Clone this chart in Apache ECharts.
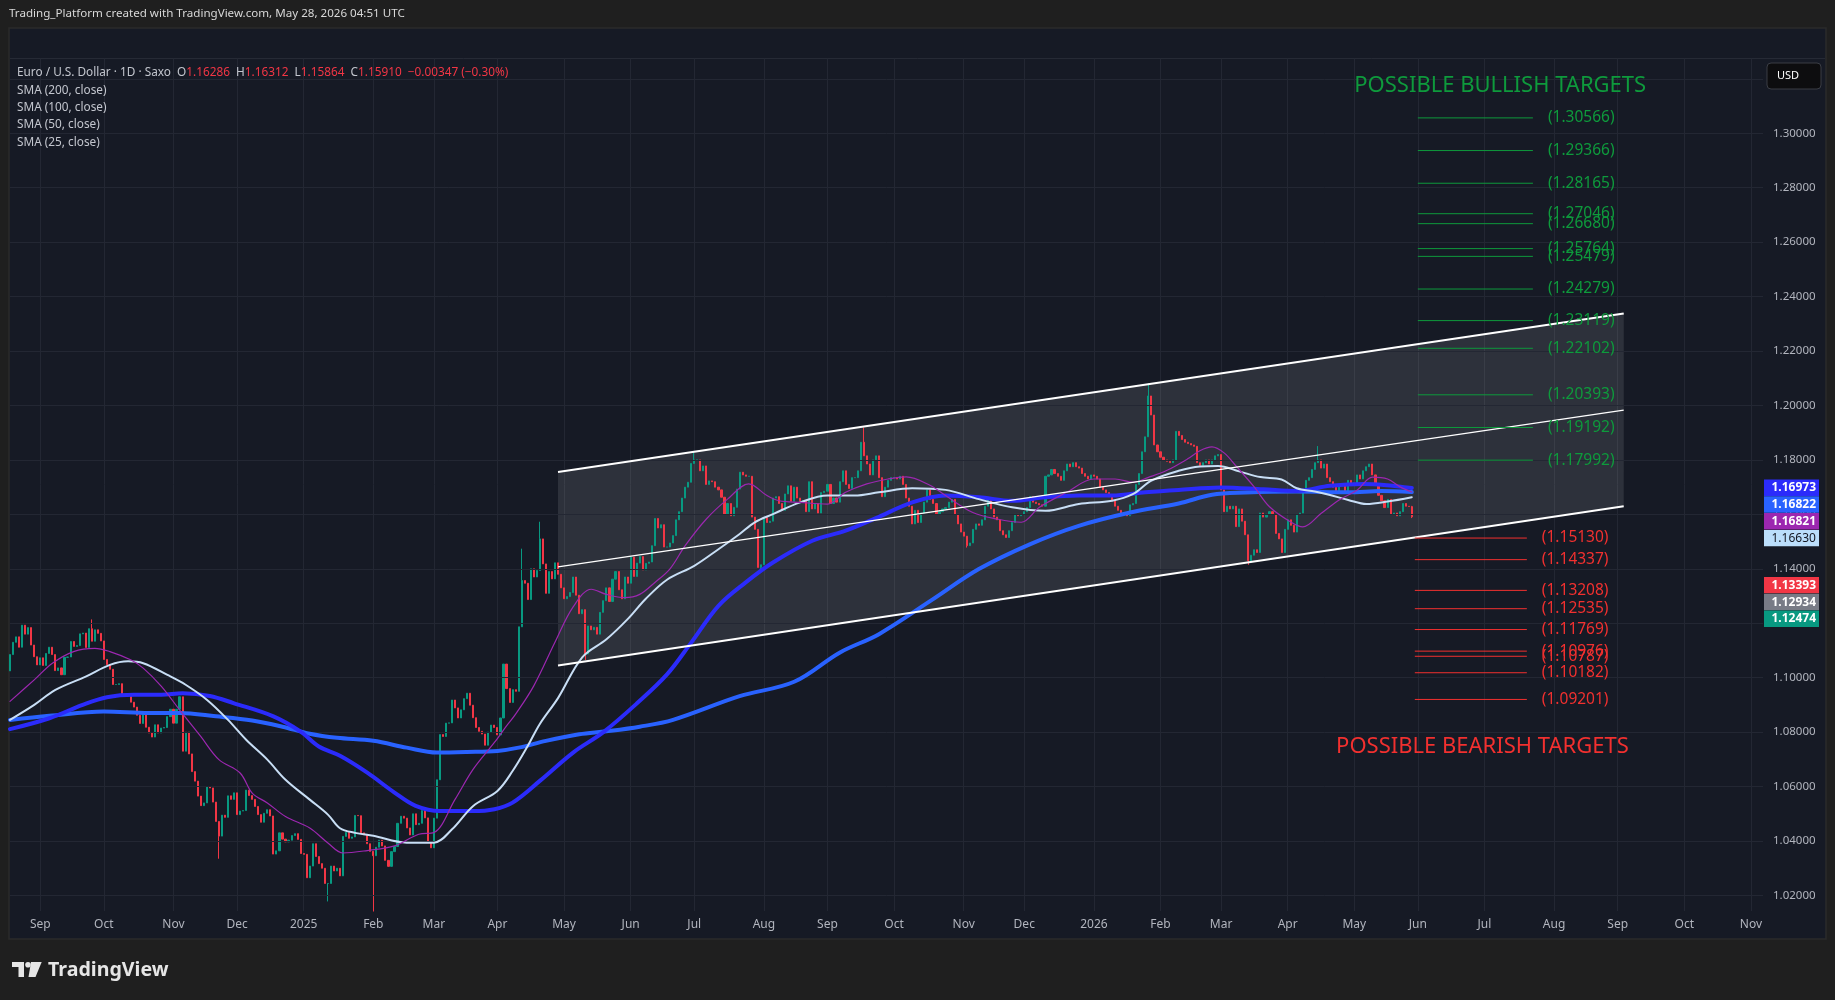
<!DOCTYPE html>
<html>
<head>
<meta charset="utf-8">
<script src="https://cdn.jsdelivr.net/npm/echarts@6/dist/echarts.min.js"></script>
<style>
  html, body { margin: 0; padding: 0; background: #1f1f1f; }
  #main { width: 1835px; height: 1000px; }
</style>
</head>
<body>
<div id="main"></div>
<script>
// daily closes, EUR/USD, in 1e-4 units, from 2024-08-19 to 2026-05-28 (weekdays)
const closes = [
  11085,11130,11150,11112,11193,11160,11184,11120,11077,11047,
  11073,11045,11089,11112,11085,11026,11036,11011,11075,11076,11133,11115,11118,11161,11164,11111,11180,11134,11176,11163,11135,
  11067,11048,11031,10975,10975,10978,10940,10936,10937,10910,10892,10862,10832,10867,10818,10797,10782,10827,10797,10815,10817,10857,10884,
  10833,10884,10930,10730,10800,10720,10655,10620,10565,10530,10540,10600,10595,10543,10472,10418,10495,10487,10566,10553,10577,
  10497,10510,10512,10587,10567,10553,10527,10497,10469,10502,10515,10492,10352,10364,10430,10407,10397,10403,10420,10427,10406,10354,
  10351,10265,10308,10390,10343,10317,10300,10244,10244,10308,10290,10300,10272,10417,10432,10410,10415,10494,10493,10430,10423,10390,10362,
  10346,10377,10403,10382,10329,10307,10361,10380,10465,10491,10484,10448,10422,10500,10460,10465,10512,10485,10398,10375,
  10484,10625,10791,10784,10833,10834,10918,10889,10852,10882,10923,10943,10899,10853,10817,10803,10793,10752,10800,10826,10817,
  10790,10852,11050,10960,10909,10956,10950,11187,11357,11347,11287,11400,11370,11394,11510,11418,11310,11390,11363,11422,11380,11330,
  11290,11298,11313,11370,11303,11235,11250,11087,11190,11176,11185,11160,11240,11283,11330,11280,11362,11390,11323,11290,11370,11347,
  11443,11372,11421,11445,11396,11420,11425,11485,11585,11550,11562,11480,11480,11495,11522,11580,11610,11660,11700,11718,11787,
  11800,11800,11760,11778,11710,11723,11720,11700,11690,11663,11600,11640,11595,11626,11693,11755,11745,11740,11740,11590,11545,11405,11415,
  11588,11570,11575,11660,11665,11640,11615,11675,11705,11648,11700,11660,11650,11650,11610,11720,11620,11640,11605,11680,11685,
  11710,11640,11660,11645,11720,11760,11710,11695,11735,11735,11760,11865,11815,11785,11745,11800,11815,11735,11665,11700,11725,11735,
  11735,11730,11740,11710,11660,11630,11565,11615,11570,11605,11645,11690,11655,11640,11600,11610,11620,11625,11645,11655,11600,11565,11535,
  11520,11485,11495,11545,11565,11560,11580,11630,11655,11620,11590,11580,11540,11525,11515,11540,11570,11600,11595,11600,
  11610,11625,11665,11645,11640,11635,11630,11740,11745,11765,11750,11740,11725,11760,11785,11775,11790,11775,11770,11750,11740,11730,11745,
  11740,11730,11700,11690,11680,11665,11650,11630,11615,11605,11600,11595,11635,11640,11710,11750,11830,11885,12035,11965,11855,11830,
  11810,11800,11795,11790,11800,11905,11890,11875,11865,11860,11855,11850,11790,11780,11790,11800,11785,11800,11815,11820,
  11690,11610,11630,11620,11630,11555,11620,11575,11525,11430,11450,11470,11460,11605,11590,11600,11610,11600,11530,11510,11460,11545,
  11580,11560,11535,11600,11605,11680,11725,11735,11765,11790,11800,11770,11785,11735,11720,11700,11680,11705,11710,11685,11725,11715,
  11715,11745,11730,11760,11775,11785,11745,11710,11670,11650,11625,11655,11600,11605,11595,11610,11640,11630,11629,11591
];
const firstOpen = 11025;
const lastOpen = 1.16286;
const wickHigh = {
  '2024-09-25': 1.1214, '2025-04-11': 1.1474, '2025-04-21': 1.1573, '2025-07-01': 1.1830,
  '2025-09-17': 1.1919, '2026-01-27': 1.2082, '2026-04-15': 1.1851, '2026-05-28': 1.16312
};
const wickLow = {
  '2024-11-22': 1.0335, '2025-01-13': 1.0178, '2025-02-03': 1.0141, '2025-05-12': 1.1065,
  '2025-07-31': 1.1392, '2025-11-04': 1.1478, '2026-03-13': 1.1415, '2026-05-28': 1.15864
};

// moving averages: [bar number from first bar, value]
const sma200 = [[0,1.0845],[13,1.0860],[31,1.0876],[46,1.0870],[56,1.0870],[68,1.0858],[80,1.0843],[90,1.0820],[99,1.0794],[108,1.0779],[120,1.0768],[131,1.0743],[141,1.0725],[151,1.0727],[161,1.0731],[168,1.0743],[177,1.0768],[188,1.0792],[197,1.0803],[208,1.0820],[219,1.0845],[241,1.0932],[259,1.0985],[274,1.1092],[287,1.1160],[304,1.1282],[320,1.1399],[337,1.1491],[353,1.1558],[370,1.1607],[386,1.1640],[397,1.1672],[408,1.1680],[425,1.1684],[442,1.1681],[453,1.1686],[463,1.1682]];
const sma100 = [[0,1.0811],[13,1.0851],[24,1.0900],[32,1.0928],[41,1.0937],[50,1.0937],[57,1.0943],[66,1.0933],[74,1.0906],[87,1.0858],[96,1.0802],[102,1.0747],[109,1.0713],[118,1.0651],[127,1.0578],[134,1.0529],[142,1.0510],[153,1.0510],[160,1.0517],[166,1.0541],[175,1.0621],[186,1.0725],[196,1.0800],[207,1.0905],[217,1.1012],[225,1.1129],[234,1.1264],[243,1.1350],[252,1.1423],[265,1.1503],[276,1.1540],[286,1.1586],[298,1.1644],[309,1.1669],[320,1.1663],[331,1.1650],[342,1.1663],[353,1.1669],[364,1.1669],[375,1.1681],[386,1.1690],[400,1.1699],[414,1.1692],[425,1.1686],[436,1.1705],[447,1.1712],[463,1.1697]];
const sma50 = [[0,1.0845],[8,1.0900],[15,1.0955],[25,1.1004],[33,1.1047],[39,1.1060],[44,1.1053],[52,1.1010],[58,1.0974],[65,1.0919],[72,1.0845],[78,1.0772],[85,1.0699],[91,1.0625],[99,1.0552],[105,1.0497],[109,1.0447],[114,1.0430],[120,1.0419],[131,1.0394],[140,1.0394],[146,1.0443],[153,1.0529],[161,1.0584],[166,1.0657],[171,1.0749],[175,1.0830],[181,1.0925],[189,1.1075],[197,1.1141],[204,1.1215],[210,1.1290],[217,1.1360],[226,1.1411],[234,1.1472],[241,1.1528],[246,1.1571],[252,1.1601],[261,1.1644],[270,1.1669],[279,1.1669],[287,1.1681],[298,1.1696],[309,1.1690],[320,1.1656],[331,1.1626],[342,1.1613],[353,1.1638],[364,1.1650],[371,1.1675],[377,1.1724],[386,1.1760],[393,1.1776],[399,1.1778],[406,1.1758],[413,1.1737],[420,1.1728],[425,1.1696],[431,1.1684],[436,1.1671],[442,1.1653],[448,1.1638],[455,1.1647],[463,1.1663]];
const sma25 = [[0,1.0913],[8,1.0992],[14,1.1053],[21,1.1096],[28,1.1108],[33,1.1096],[40,1.1065],[44,1.1035],[50,1.0968],[56,1.0882],[63,1.0784],[69,1.0699],[76,1.0650],[80,1.0576],[85,1.0540],[91,1.0490],[99,1.0448],[105,1.0393],[110,1.0356],[118,1.0365],[127,1.0382],[135,1.0425],[140,1.0431],[147,1.0553],[153,1.0664],[160,1.0762],[164,1.0823],[167,1.0866],[173,1.0970],[180,1.1130],[186,1.1260],[192,1.1325],[197,1.1306],[203,1.1294],[208,1.1306],[213,1.1350],[218,1.1400],[223,1.1485],[230,1.1583],[237,1.1656],[244,1.1712],[250,1.1669],[254,1.1650],[261,1.1644],[270,1.1638],[276,1.1681],[283,1.1712],[290,1.1730],[296,1.1738],[304,1.1706],[309,1.1669],[318,1.1607],[326,1.1583],[334,1.1571],[340,1.1626],[349,1.1681],[358,1.1730],[365,1.1730],[371,1.1718],[376,1.1736],[382,1.1761],[389,1.1804],[393,1.1834],[397,1.1848],[401,1.1826],[405,1.1777],[411,1.1700],[416,1.1628],[423,1.1572],[427,1.1554],[433,1.1603],[439,1.1653],[445,1.1690],[450,1.1737],[455,1.1730],[459,1.1702],[463,1.1682]];

// parallel channel drawing
const channelDates = ['2025-04-29', '2026-09-03'];
const channelUpper = [1.1756, 1.2338];
const channelMiddle = [1.1407, 1.1983];
const channelLower = [1.1045, 1.1630];

// target levels
const bullishTargets = [1.30566, 1.29366, 1.28165, 1.27046, 1.26680, 1.25764, 1.25479, 1.24279, 1.23119, 1.22102, 1.20393, 1.19192, 1.17992];
const bearishTargets = [1.15130, 1.14337, 1.13208, 1.12535, 1.11769, 1.10976, 1.10787, 1.10182, 1.09201];
const bullishSpan = ['2026-06-01', '2026-07-23'];
const bearishSpan = ['2026-05-29', '2026-07-21'];

// price scale
const yTicks = [1.02, 1.04, 1.06, 1.08, 1.10, 1.12, 1.14, 1.16, 1.18, 1.20, 1.22, 1.24, 1.26, 1.28, 1.30];
const yGrid = yTicks.concat([1.32]);
const priceTags = [
  { v: 1.16973, bg: '#2b2bfb', fg: '#ffffff' },
  { v: 1.16822, bg: '#2962ff', fg: '#ffffff' },
  { v: 1.16821, bg: '#9c27b0', fg: '#ffffff' },
  { v: 1.16630, bg: '#bbdefb', fg: '#131722' },
  { v: 1.13393, bg: '#f23645', fg: '#ffffff' },
  { v: 1.12934, bg: '#787b86', fg: '#ffffff' },
  { v: 1.12474, bg: '#089981', fg: '#ffffff' }
];
const monthNames = ['Jan','Feb','Mar','Apr','May','Jun','Jul','Aug','Sep','Oct','Nov','Dec'];

// trading-day categories (weekdays), incl. empty future space
const dates = [];
let d = new Date(Date.UTC(2024, 7, 19));
while (dates.length < 580) {
  const wd = d.getUTCDay();
  if (wd !== 0 && wd !== 6) dates.push(d.toISOString().slice(0, 10));
  d.setUTCDate(d.getUTCDate() + 1);
}
const monthStarts = new Set();
for (let i = 1; i < dates.length; i++) {
  if (dates[i].slice(5, 7) !== dates[i - 1].slice(5, 7)) monthStarts.add(i);
}
const di = s => dates.indexOf(s);

const candles = closes.map((c, i) => {
  let o = i === 0 ? firstOpen / 1e4 : closes[i - 1] / 1e4;
  if (i === closes.length - 1) o = lastOpen;
  const cl = c / 1e4;
  let hi = Math.max(o, cl), lo = Math.min(o, cl);
  if (wickHigh[dates[i]]) hi = wickHigh[dates[i]];
  if (wickLow[dates[i]]) lo = wickLow[dates[i]];
  return [o, cl, lo, hi];
});

const FONT = '"Noto Sans", "DejaVu Sans", sans-serif';
const green = '#0e9a3c';
const red = '#f2302f';

const chart = echarts.init(document.getElementById('main'));

function smaSeries(name, data, color, width, z) {
  return {
    name, type: 'line', data, smooth: 0.35, showSymbol: false, symbol: 'none', z,
    lineStyle: { color, width, cap: 'round', join: 'round' }, silent: true
  };
}

const channelData = [[di(channelDates[0]), channelUpper[0], channelMiddle[0], channelLower[0],
                      di(channelDates[1]), channelUpper[1], channelMiddle[1], channelLower[1]]];
function channelCoords(api) {
  return {
    u0: api.coord([api.value(0), api.value(1)]), u1: api.coord([api.value(4), api.value(5)]),
    m0: api.coord([api.value(0), api.value(2)]), m1: api.coord([api.value(4), api.value(6)]),
    l0: api.coord([api.value(0), api.value(3)]), l1: api.coord([api.value(4), api.value(7)])
  };
}

const staticGraphics = [
  { id: 'panel', type: 'rect', z: -10, shape: { x: 9, y: 28, width: 1817, height: 911 },
    style: { fill: '#161a25', stroke: '#2b2b2b', lineWidth: 1.5 } },
  { id: 'toolbarLine', type: 'line', z: -9, shape: { x1: 10, y1: 58.5, x2: 1825, y2: 58.5 },
    style: { stroke: '#262a35', lineWidth: 1 } },
  { id: 'title', type: 'text', x: 9, y: 14, z: 100,
    style: { text: 'Trading_Platform created with TradingView.com, May 28, 2026 04:51 UTC',
      fill: '#d8d8d8', fontSize: 11.6, fontFamily: FONT, verticalAlign: 'middle' } },
  { id: 'header', type: 'text', x: 17, y: 73, z: 100,
    style: {
      text: '{g|Euro / U.S. Dollar · 1D · Saxo  O}{r|1.16286}{g|  H}{r|1.16312}{g|  L}{r|1.15864}{g|  C}{r|1.15910}{r|  −0.00347 (−0.30%)}',
      verticalAlign: 'middle',
      rich: {
        g: { fill: '#c3c6ce', fontSize: 11.8, fontFamily: FONT },
        r: { fill: '#f23645', fontSize: 11.8, fontFamily: FONT }
      }
    } },
  ...['SMA (200, close)', 'SMA (100, close)', 'SMA (50, close)', 'SMA (25, close)'].map((t, k) => ({
    id: 'leg' + k, type: 'text', x: 17, y: 90.9 + k * 17.1, z: 100,
    style: { text: t, fill: '#c3c6ce', fontSize: 11.8, fontFamily: FONT, verticalAlign: 'middle' }
  })),
  { id: 'usdBox', type: 'rect', z: 100, shape: { x: 1767, y: 63, width: 54, height: 26, r: 4 },
    style: { fill: '#0d0d0f', stroke: '#3a3d45', lineWidth: 1 } },
  { id: 'usdText', type: 'text', x: 1777, y: 76, z: 101,
    style: { text: 'USD', fill: '#ffffff', fontSize: 11, fontFamily: FONT, verticalAlign: 'middle' } },
  // TradingView logo
  { id: 'logoT1', type: 'rect', z: 100, shape: { x: 12, y: 962, width: 12, height: 5 }, style: { fill: '#e6e6e6' } },
  { id: 'logoT2', type: 'rect', z: 100, shape: { x: 18.5, y: 962, width: 5.5, height: 15 }, style: { fill: '#e6e6e6' } },
  { id: 'logoDot', type: 'circle', z: 100, shape: { cx: 28, cy: 964.8, r: 2.8 }, style: { fill: '#e6e6e6' } },
  { id: 'logo7', type: 'polygon', z: 100, shape: { points: [[31, 962], [41.7, 962], [35.5, 977], [28.5, 977]] }, style: { fill: '#e6e6e6' } },
  { id: 'logoText', type: 'text', x: 48, y: 970, z: 100,
    style: { text: 'TradingView', fill: '#e6e6e6', fontSize: 19.6, fontWeight: 'bold', fontFamily: FONT, verticalAlign: 'middle' } }
];

const option = {
  backgroundColor: '#1f1f1f',
  animation: false,
  grid: { left: 10, right: 72, top: 58.5, bottom: 89, containLabel: false },
  xAxis: {
    type: 'category', data: dates, boundaryGap: false,
    axisLine: { show: false }, axisTick: { show: false },
    axisLabel: {
      interval: (idx) => monthStarts.has(idx),
      formatter: (v) => v.slice(5, 7) === '01' ? v.slice(0, 4) : monthNames[+v.slice(5, 7) - 1],
      color: '#b2b5be', fontSize: 12, fontFamily: FONT, margin: 8
    },
    splitLine: { show: true, interval: (idx) => monthStarts.has(idx), lineStyle: { color: '#232733', width: 1 } }
  },
  yAxis: {
    type: 'value', position: 'right', min: 1.01429, max: 1.32748, scale: true,
    axisLine: { show: false }, axisTick: { show: false }, splitLine: { show: false },
    axisLabel: {
      customValues: yTicks, formatter: (v) => v.toFixed(5),
      color: '#b2b5be', fontSize: 11.5, fontFamily: FONT, margin: 10
    }
  },
  graphic: { elements: staticGraphics },
  series: [
    {
      name: 'grid', type: 'line', data: [[0, 1.3]], symbol: 'none', z: 0, silent: true,
      lineStyle: { opacity: 0 },
      markLine: {
        silent: true, symbol: 'none', label: { show: false }, animation: false,
        lineStyle: { color: '#232733', width: 1, type: 'solid' },
        data: yGrid.map(v => ({ yAxis: v }))
      }
    },
    {
      name: 'channelFill', type: 'custom', z: 1, silent: true, clip: true,
      data: channelData, encode: { x: [0, 4], y: [1, 2, 3, 5, 6, 7] },
      renderItem: (params, api) => {
        const c = channelCoords(api);
        return { type: 'polygon', shape: { points: [c.u0, c.u1, c.l1, c.l0] }, style: { fill: 'rgba(255,255,255,0.1)' } };
      }
    },
    {
      name: 'EURUSD', type: 'candlestick', data: candles, z: 3, barWidth: 1.6,
      itemStyle: { color: '#089981', color0: '#f23645', borderColor: '#089981', borderColor0: '#f23645', borderWidth: 1 }
    },
    smaSeries('SMA 200', sma200, '#2962ff', 4, 5),
    smaSeries('SMA 100', sma100, '#2b2bfb', 4, 6),
    smaSeries('SMA 50', sma50, '#c8def5', 2, 7),
    smaSeries('SMA 25', sma25, '#9c27b0', 1.2, 8),
    {
      name: 'channelLines', type: 'custom', z: 9, silent: true, clip: true,
      data: channelData, encode: { x: [0, 4], y: [1, 2, 3, 5, 6, 7] },
      renderItem: (params, api) => {
        const c = channelCoords(api);
        return {
          type: 'group', children: [
            { type: 'line', shape: { x1: c.u0[0], y1: c.u0[1], x2: c.u1[0], y2: c.u1[1] }, style: { stroke: '#ffffff', lineWidth: 2 } },
            { type: 'line', shape: { x1: c.m0[0], y1: c.m0[1], x2: c.m1[0], y2: c.m1[1] }, style: { stroke: '#ffffff', lineWidth: 1.2 } },
            { type: 'line', shape: { x1: c.l0[0], y1: c.l0[1], x2: c.l1[0], y2: c.l1[1] }, style: { stroke: '#ffffff', lineWidth: 2 } }
          ]
        };
      }
    },
    ...[[bullishTargets, bullishSpan, green], [bearishTargets, bearishSpan, red]].map(([arr, span, col], k) => ({
      name: k ? 'bearish' : 'bullish', type: 'custom', z: 10, silent: true, clip: false,
      data: arr.map(v => [di(span[0]), v, di(span[1])]),
      encode: { x: [0, 2], y: 1 },
      renderItem: (params, api) => {
        const a = api.coord([api.value(0), api.value(1)]);
        const b = api.coord([api.value(2), api.value(1)]);
        return {
          type: 'group', children: [
            { type: 'line', shape: { x1: a[0], y1: a[1], x2: b[0], y2: b[1] }, style: { stroke: col, lineWidth: 1 } },
            { type: 'text', x: b[0] + 15, y: a[1],
              style: { text: '(' + api.value(1).toFixed(5) + ')', fill: col, fontSize: 15.5, fontFamily: FONT,
                align: 'left', verticalAlign: 'middle' } }
          ]
        };
      }
    }))
  ]
};

chart.setOption(option);

// price tags on the scale (stacked so they do not overlap) and the two headings
const tagEls = [];
let lastBottom = -Infinity;
const tagH = 16.8;
priceTags.forEach((t, k) => {
  const cy = chart.convertToPixel({ yAxisIndex: 0 }, t.v);
  const top = Math.max(cy - tagH / 2, lastBottom);
  lastBottom = top + tagH;
  tagEls.push({ id: 'tagBox' + k, type: 'rect', z: 120, shape: { x: 1764, y: top, width: 55, height: tagH - 0.4 }, style: { fill: t.bg } });
  tagEls.push({ id: 'tagText' + k, type: 'text', x: 1771.5, y: top + tagH / 2, z: 121,
    style: { text: t.v.toFixed(5), fill: t.fg, fontSize: 12, fontWeight: t.fg === '#ffffff' ? 'bold' : 'normal',
      fontFamily: FONT, verticalAlign: 'middle' } });
});
const bullPos = chart.convertToPixel({ xAxisIndex: 0, yAxisIndex: 0 }, [di('2026-05-01'), 1.3174]);
const bearPos = chart.convertToPixel({ xAxisIndex: 0, yAxisIndex: 0 }, [di('2026-04-23'), 1.0747]);
tagEls.push({ id: 'bullTitle', type: 'text', x: bullPos[0], y: bullPos[1], z: 110,
  style: { text: 'POSSIBLE BULLISH TARGETS', fill: green, fontSize: 22, fontFamily: FONT, verticalAlign: 'middle' } });
tagEls.push({ id: 'bearTitle', type: 'text', x: bearPos[0], y: bearPos[1], z: 110,
  style: { text: 'POSSIBLE BEARISH TARGETS', fill: red, fontSize: 22, fontFamily: FONT, verticalAlign: 'middle' } });

chart.setOption({ graphic: { elements: staticGraphics.concat(tagEls) } });

window.addEventListener('resize', () => chart.resize());
</script>
</body>
</html>
